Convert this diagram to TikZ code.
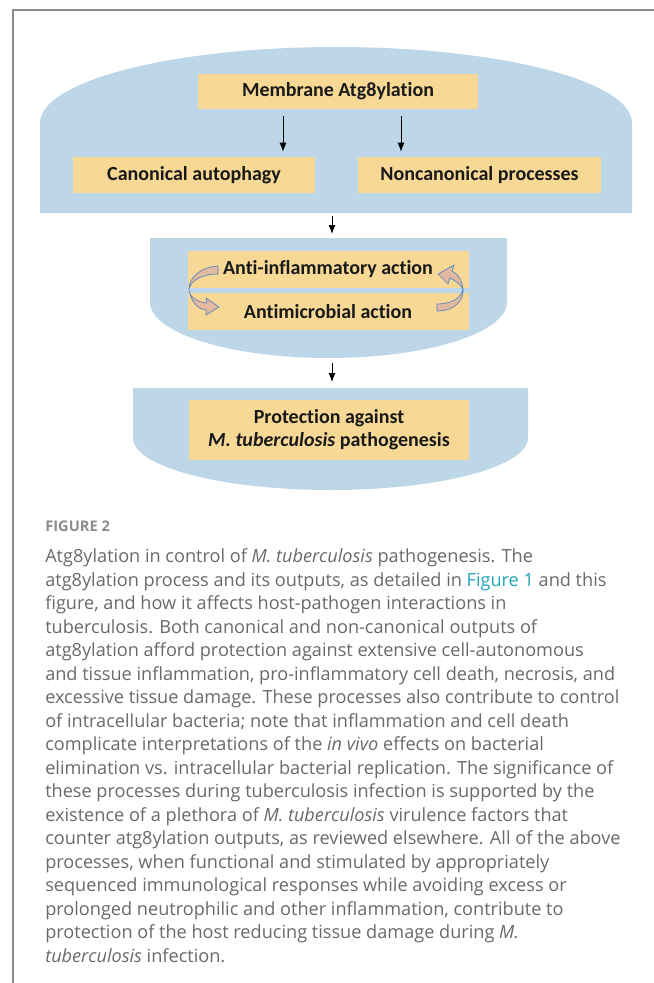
\documentclass[tikz,border=0pt]{standalone}
\usepackage{fontspec}
\setmainfont{Carlito}[Ligatures=NoCommon]
\newfontfamily\capfont{Open Sans}
\usetikzlibrary{arrows.meta}

\definecolor{shapeblue}{RGB}{189,215,233}
\definecolor{boxsand}{RGB}{247,216,149}
\definecolor{loopfill}{RGB}{226,184,160}
\definecolor{loopline}{RGB}{84,135,196}
\definecolor{capgray}{RGB}{105,105,105}
\definecolor{linkteal}{RGB}{32,164,184}
\definecolor{framegray}{RGB}{140,140,140}

\tikzset{
  sandbox/.style={fill=boxsand, inner sep=0pt, align=center, text=black!90,
    font=\fontsize{15}{17.25}\selectfont\bfseries},
  flowarrow/.style={-{Latex[length=6.75pt,width=5.25pt]}, line width=0.75pt},
  looparrow/.style={fill=loopfill, draw=loopline, line width=0.5pt},
  captext/.style={anchor=base west, inner sep=0pt, text=capgray,
    font=\capfont\fontsize{13.6}{15}\selectfont},
}

\begin{document}
\begin{tikzpicture}[x=0.75pt,y=0.75pt,yscale=-1]
\useasboundingbox (0,0) rectangle (654,983);

%Frame
\draw [framegray, line width=1.1pt] (13,983) -- (13,10) -- (654,10) ;

%Shape: dome
\fill [shapeblue] (40,213) -- (40,123) arc [start angle=180, end angle=360, x radius=296, y radius=76] -- (632,213) -- cycle ;
%Shape: middle bowl
\fill [shapeblue] (150,238) -- (507,238) -- (507,302) arc [start angle=0, end angle=180, x radius=178.5, y radius=56] -- cycle ;
%Shape: lower bowl
\fill [shapeblue] (133,388) -- (528,388) -- (528,438) arc [start angle=0, end angle=180, x radius=197.5, y radius=52] -- cycle ;

\coordinate (lcol) at (283,0) ;
\coordinate (rcol) at (401,0) ;
\coordinate (topbase) at (332,213) ;
\coordinate (midtop) at (332,238) ;
\coordinate (midbase) at (332,358) ;
\coordinate (lowtop) at (332,388) ;

% Boxes
\node [sandbox, minimum width=210pt, minimum height=26.25pt] (memb) at (338,91.5) {Membrane Atg8ylation};
\node [sandbox, minimum width=181.5pt, minimum height=27pt] (canon) at (194,175) {Canonical autophagy};
\node [sandbox, minimum width=182.25pt, minimum height=27pt] (noncanon) at (479.5,175) {Noncanonical processes};
\node [sandbox, minimum width=210.75pt, minimum height=27.75pt] (antiinf) at (328,269.5) {Anti-inflammatory action};
\node [sandbox, minimum width=210.75pt, minimum height=27.75pt] (antimic) at (328,311.5) {Antimicrobial action};
\node [sandbox, minimum width=210pt, minimum height=45pt] (protect) at (329,430) {Protection against\\\textit{M. tuberculosis} pathogenesis};

% Arrows
\draw [flowarrow, shorten <=5.25pt, shorten >=3.75pt] (lcol |- memb.south) -- (lcol |- canon.north) ;
\draw [flowarrow, shorten <=5.25pt, shorten >=3.75pt] (rcol |- memb.south) -- (rcol |- noncanon.north) ;
\draw [flowarrow, shorten <=2.25pt, shorten >=3pt] (topbase) -- (midtop) ;
\draw [flowarrow, shorten <=3.75pt, shorten >=4.5pt] (midbase) -- (lowtop) ;

%Curved arrow left
\draw [looparrow] (218,266) .. controls (200,267) and (189,278) .. (189,289) .. controls (189,297) and (197,302) .. (207,303) -- (206,298) -- (219,307) -- (206,315) -- (206,310) .. controls (196,309) and (190,299) .. (189,289) .. controls (191,280) and (203,274) .. (218,274) -- cycle ;
%Curved arrow right
\draw [looparrow] (437,311) .. controls (455,311) and (464,300) .. (463,289) .. controls (462,280) and (458,274) .. (452,271) -- (454,265) -- (438,274) -- (448,284) -- (450,278) .. controls (456,281) and (461,285) .. (463,289) .. controls (461,298) and (452,304) .. (437,304) -- cycle ;

% Caption
\node [captext, font=\capfont\fontsize{11}{12}\selectfont\bfseries, text=framegray] (figlab) at (45,531) {FIGURE 2};
% Text Node
\node [captext] (cap1) at (45,562.5) {Atg8ylation in control of \textit{M. tuberculosis} pathogenesis. The};
% Text Node
\node [captext] (cap2) at (45,586) {atg8ylation process and its outputs, as detailed in \textcolor{linkteal}{Figure 1} and this};
% Text Node
\node [captext] (cap3) at (45,609.5) {figure, and how it affects host-pathogen interactions in};
% Text Node
\node [captext] (cap4) at (45,633) {tuberculosis. Both canonical and non-canonical outputs of};
% Text Node
\node [captext] (cap5) at (45,656.5) {atg8ylation afford protection against extensive cell-autonomous};
% Text Node
\node [captext] (cap6) at (45,680) {and tissue inflammation, pro-inflammatory cell death, necrosis, and};
% Text Node
\node [captext] (cap7) at (45,703.5) {excessive tissue damage. These processes also contribute to control};
% Text Node
\node [captext] (cap8) at (45,727) {of intracellular bacteria; note that inflammation and cell death};
% Text Node
\node [captext] (cap9) at (45,750.5) {complicate interpretations of the \textit{in vivo} effects on bacterial};
% Text Node
\node [captext] (cap10) at (45,774) {elimination vs. intracellular bacterial replication. The significance of};
% Text Node
\node [captext] (cap11) at (45,797.5) {these processes during tuberculosis infection is supported by the};
% Text Node
\node [captext] (cap12) at (45,821) {existence of a plethora of \textit{M. tuberculosis} virulence factors that};
% Text Node
\node [captext] (cap13) at (45,844.5) {counter atg8ylation outputs, as reviewed elsewhere. All of the above};
% Text Node
\node [captext] (cap14) at (45,868) {processes, when functional and stimulated by appropriately};
% Text Node
\node [captext] (cap15) at (45,891.5) {sequenced immunological responses while avoiding excess or};
% Text Node
\node [captext] (cap16) at (45,915) {prolonged neutrophilic and other inflammation, contribute to};
% Text Node
\node [captext] (cap17) at (45,938.5) {protection of the host reducing tissue damage during \textit{M.}};
% Text Node
\node [captext] (cap18) at (45,962) {\textit{tuberculosis} infection.};
\end{tikzpicture}
\end{document}
